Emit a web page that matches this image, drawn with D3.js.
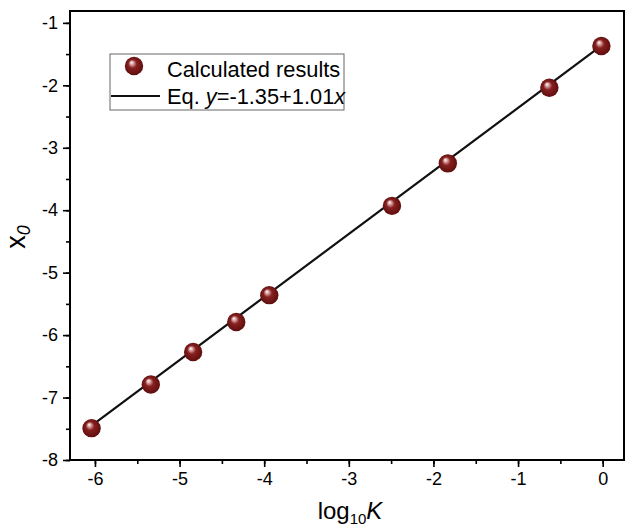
<!DOCTYPE html>
<html><head><meta charset="utf-8">
<script src="https://cdn.jsdelivr.net/npm/d3@7/dist/d3.min.js"></script>
<style>body{margin:0;background:#fff}svg{display:block}text{font-family:"Liberation Sans",Arial,sans-serif}</style>
</head><body>
<svg id="c" width="625" height="528"></svg>
<script>
const logK = [-6.04, -5.34, -4.84, -4.33, -3.94, -2.49, -1.83, -0.63, -0.015];
const x0vals = [-7.49, -6.79, -6.27, -5.79, -5.36, -3.93, -3.25, -2.04, -1.37];
const xTicks = [-6, -5, -4, -3, -2, -1, 0];
const yTicks = [-8, -7, -6, -5, -4, -3, -2, -1];
const fitIntercept = -1.35, fitSlope = 1.01;

const svg = d3.select("#c");
const L = 70, R = 624, T = 11, B = 460;
const x = d3.scaleLinear().domain([-6.295, 0.252]).range([L, R]);
const y = d3.scaleLinear().domain([-8, -0.81]).range([B, T]);

const defs = svg.append("defs");
const g = defs.append("radialGradient").attr("id","ball").attr("cx","50%").attr("cy","50%").attr("r","55%").attr("fx","36%").attr("fy","30%");
g.append("stop").attr("offset","0%").attr("stop-color","#ffffff");
g.append("stop").attr("offset","15%").attr("stop-color","#e0b0b0");
g.append("stop").attr("offset","42%").attr("stop-color","#86201f");
g.append("stop").attr("offset","100%").attr("stop-color","#5a0c0c");

const styleAxis = s => {
  s.select(".domain").remove();
  s.selectAll("line").attr("stroke","#000").attr("stroke-width",1.6);
  s.selectAll("text").attr("font-size",18).attr("fill","#000").attr("font-family","Liberation Sans, Arial");
};

const xMinor = d3.range(-6, 0.01, 0.5);
const yMinor = d3.range(-8, -0.99, 0.5);
svg.append("g").attr("transform",`translate(0,${B})`).call(d3.axisBottom(x).tickValues(xMinor).tickSize(4).tickFormat("")).call(styleAxis);
svg.append("g").attr("transform",`translate(0,${B})`).call(d3.axisBottom(x).tickValues(xTicks).tickSize(7).tickPadding(5).tickFormat(d=>d)).call(styleAxis);
svg.append("g").attr("transform",`translate(${L},0)`).call(d3.axisLeft(y).tickValues(yMinor).tickSize(4).tickFormat("")).call(styleAxis);
svg.append("g").attr("transform",`translate(${L},0)`).call(d3.axisLeft(y).tickValues(yTicks).tickSize(7).tickPadding(5).tickFormat(d=>d)).call(styleAxis);

svg.append("rect").attr("x",L).attr("y",T).attr("width",R-L).attr("height",B-T).attr("fill","none").attr("stroke","#000").attr("stroke-width",2);

// fit line
const xr = d3.extent(logK);
svg.append("line").attr("x1",x(xr[0])).attr("y1",y(fitIntercept+fitSlope*xr[0]))
  .attr("x2",x(xr[1])).attr("y2",y(fitIntercept+fitSlope*xr[1]))
  .attr("stroke","#111").attr("stroke-width",2.2);

// points
svg.append("g").selectAll("circle").data(logK).join("circle")
  .attr("cx",d=>x(d)).attr("cy",(d,i)=>y(x0vals[i])).attr("r",9.2).attr("fill","url(#ball)");

// axis titles
const xt = svg.append("text").attr("x",350).attr("y",519).attr("text-anchor","middle").attr("font-size",24).attr("fill","#000");
xt.append("tspan").text("log");
xt.append("tspan").attr("font-size",15).attr("dy",5).text("10");
xt.append("tspan").attr("dy",-5).attr("font-style","italic").text("K");

const yt = svg.append("text").attr("transform",`translate(25,237) rotate(-90)`).attr("text-anchor","middle").attr("font-size",27).attr("fill","#000");
yt.append("tspan").text("x");
yt.append("tspan").attr("font-size",18).attr("dy",5).attr("font-style","italic").text("0");

// legend
svg.append("rect").attr("x",110).attr("y",54).attr("width",234).attr("height",56).attr("fill","#fff").attr("stroke","#666").attr("stroke-width",1);
svg.append("circle").attr("cx",134).attr("cy",66).attr("r",9.2).attr("fill","url(#ball)");
svg.append("text").attr("x",167).attr("y",76.5).attr("font-size",21.8).attr("fill","#000").text("Calculated results");
svg.append("line").attr("x1",111).attr("x2",160).attr("y1",96).attr("y2",96).attr("stroke","#111").attr("stroke-width",2.2);
const lt = svg.append("text").attr("x",167).attr("y",103.5).attr("font-size",21.8).attr("fill","#000");
lt.append("tspan").text("Eq. ");
lt.append("tspan").attr("font-style","italic").text("y");
lt.append("tspan").text("=-1.35+1.01");
lt.append("tspan").attr("font-style","italic").text("x");
</script>
</body></html>
